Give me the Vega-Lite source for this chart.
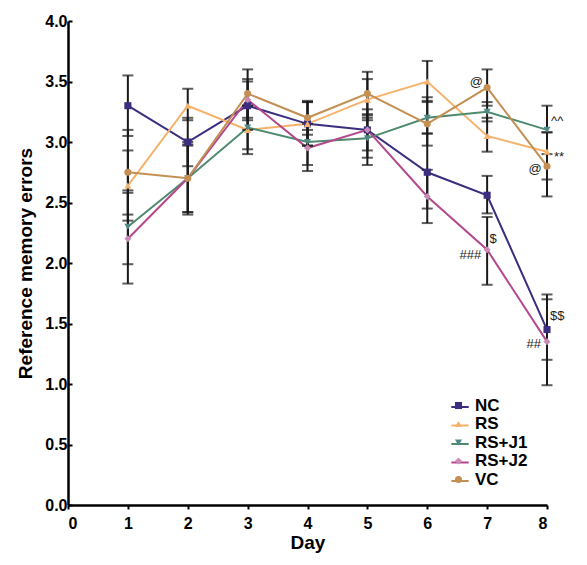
{
  "$schema": "https://vega.github.io/schema/vega-lite/v6.json",
  "width": 479,
  "height": 484,
  "autosize": {"type": "none"},
  "padding": {"left": 68, "top": 21, "right": 40, "bottom": 60},
  "background": "white",
  "config": {
    "view": {"stroke": null},
    "font": "Liberation Sans",
    "axis": {
      "domainColor": "black", "domainWidth": 2.5, "tickColor": "black", "tickWidth": 2, "tickSize": 4,
      "labelFont": "Liberation Sans", "labelFontWeight": "bold", "labelFontSize": 16, "labelColor": "black",
      "titleFont": "Liberation Sans", "titleFontWeight": "bold", "titleFontSize": 19, "titleColor": "black",
      "grid": false
    }
  },
  "datasets": {
    "main": [
      {"day":1,"group":"NC","mean":3.3,"lo":3.05,"hi":3.55},
      {"day":2,"group":"NC","mean":3.0,"lo":2.8,"hi":3.2},
      {"day":3,"group":"NC","mean":3.3,"lo":3.1,"hi":3.5},
      {"day":4,"group":"NC","mean":3.15,"lo":2.97,"hi":3.33},
      {"day":5,"group":"NC","mean":3.1,"lo":2.93,"hi":3.27},
      {"day":6,"group":"NC","mean":2.75,"lo":2.45,"hi":3.07},
      {"day":7,"group":"NC","mean":2.56,"lo":2.41,"hi":2.72},
      {"day":8,"group":"NC","mean":1.45,"lo":1.2,"hi":1.74},
      {"day":1,"group":"RS","mean":2.64,"lo":2.35,"hi":2.93},
      {"day":2,"group":"RS","mean":3.3,"lo":3.18,"hi":3.44},
      {"day":3,"group":"RS","mean":3.1,"lo":2.9,"hi":3.3},
      {"day":4,"group":"RS","mean":3.15,"lo":2.97,"hi":3.33},
      {"day":5,"group":"RS","mean":3.35,"lo":3.18,"hi":3.52},
      {"day":6,"group":"RS","mean":3.5,"lo":3.33,"hi":3.67},
      {"day":7,"group":"RS","mean":3.05,"lo":2.92,"hi":3.2},
      {"day":8,"group":"RS","mean":2.92,"lo":2.69,"hi":3.08},
      {"day":1,"group":"RS+J1","mean":2.3,"lo":1.99,"hi":2.6},
      {"day":2,"group":"RS+J1","mean":2.7,"lo":2.4,"hi":3.0},
      {"day":3,"group":"RS+J1","mean":3.12,"lo":2.94,"hi":3.3},
      {"day":4,"group":"RS+J1","mean":3.0,"lo":2.81,"hi":3.15},
      {"day":5,"group":"RS+J1","mean":3.03,"lo":2.81,"hi":3.2},
      {"day":6,"group":"RS+J1","mean":3.2,"lo":3.07,"hi":3.37},
      {"day":7,"group":"RS+J1","mean":3.25,"lo":3.17,"hi":3.33},
      {"day":8,"group":"RS+J1","mean":3.1,"lo":2.9,"hi":3.3},
      {"day":1,"group":"RS+J2","mean":2.2,"lo":1.83,"hi":2.58},
      {"day":2,"group":"RS+J2","mean":2.7,"lo":2.42,"hi":2.98},
      {"day":3,"group":"RS+J2","mean":3.35,"lo":3.18,"hi":3.52},
      {"day":4,"group":"RS+J2","mean":2.95,"lo":2.76,"hi":3.1},
      {"day":5,"group":"RS+J2","mean":3.1,"lo":2.87,"hi":3.23},
      {"day":6,"group":"RS+J2","mean":2.55,"lo":2.33,"hi":2.77},
      {"day":7,"group":"RS+J2","mean":2.11,"lo":1.82,"hi":2.38},
      {"day":8,"group":"RS+J2","mean":1.35,"lo":0.99,"hi":1.7},
      {"day":1,"group":"VC","mean":2.75,"lo":2.4,"hi":3.1},
      {"day":2,"group":"VC","mean":2.7,"lo":2.42,"hi":2.97},
      {"day":3,"group":"VC","mean":3.4,"lo":3.2,"hi":3.6},
      {"day":4,"group":"VC","mean":3.2,"lo":3.06,"hi":3.34},
      {"day":5,"group":"VC","mean":3.4,"lo":3.22,"hi":3.58},
      {"day":6,"group":"VC","mean":3.15,"lo":2.97,"hi":3.34},
      {"day":7,"group":"VC","mean":3.45,"lo":3.3,"hi":3.6},
      {"day":8,"group":"VC","mean":2.8,"lo":2.55,"hi":3.08}
    ],
    "notes": [
      {"day":6.82,"val":3.5,"label":"@"},
      {"day":8.17,"val":3.17,"label":"^^"},
      {"day":8.2,"val":2.88,"label":"**"},
      {"day":7.8,"val":2.78,"label":"@"},
      {"day":7.1,"val":2.2,"label":"$"},
      {"day":6.72,"val":2.07,"label":"###"},
      {"day":8.17,"val":1.56,"label":"$$"},
      {"day":7.78,"val":1.33,"label":"##"}
    ]
  },
  "resolve": {"scale": {"color": "independent"}, "legend": {"color": "independent", "shape": "independent"}},
  "layer": [
    {
      "data": {"name": "main"},
      "mark": {"type": "line", "strokeWidth": 2},
      "encoding": {
        "x": {"field": "day", "type": "quantitative", "scale": {"domain": [0, 8], "nice": false}, "axis": {"values": [0,1,2,3,4,5,6,7,8], "title": "Day", "labelPadding": 6, "titlePadding": 2, "format": "d"}},
        "y": {"field": "mean", "type": "quantitative", "scale": {"domain": [0, 4], "nice": false}, "axis": {"values": [0,0.5,1,1.5,2,2.5,3,3.5,4], "format": ".1f", "title": "Reference memory errors", "tickSize": -4, "labelPadding": 5, "titlePadding": 9}},
        "color": {"field": "group", "type": "nominal",
          "scale": {"domain": ["NC","RS","RS+J1","RS+J2","VC"], "range": ["#3b2d7f","#f6b26b","#4e8a6e","#b3498c","#c38f52"]},
          "legend": {"orient": "none", "legendX": 382, "legendY": 376, "title": null, "symbolType": "stroke", "symbolSize": 300, "symbolStrokeWidth": 2, "labelFontSize": 17, "labelFontWeight": "bold", "labelFont": "Liberation Sans", "labelColor": "black", "rowPadding": 0.5, "labelOffset": 8, "labelExpr": "''"}}
      }
    },
    {
      "data": {"name": "main"},
      "mark": {"type": "rule", "color": "#1a1a1a", "strokeWidth": 2},
      "encoding": {
        "x": {"field": "day", "type": "quantitative"},
        "y": {"field": "lo", "type": "quantitative"},
        "y2": {"field": "hi"}
      }
    },
    {
      "data": {"name": "main"},
      "mark": {"type": "tick", "orient": "horizontal", "color": "#1a1a1a", "thickness": 2, "size": 11},
      "encoding": {
        "x": {"field": "day", "type": "quantitative"},
        "y": {"field": "lo", "type": "quantitative"}
      }
    },
    {
      "data": {"name": "main"},
      "mark": {"type": "tick", "orient": "horizontal", "color": "#1a1a1a", "thickness": 2, "size": 11},
      "encoding": {
        "x": {"field": "day", "type": "quantitative"},
        "y": {"field": "hi", "type": "quantitative"}
      }
    },
    {
      "data": {"name": "main"},
      "mark": {"type": "point", "filled": true, "size": 50, "opacity": 1},
      "encoding": {
        "x": {"field": "day", "type": "quantitative"},
        "y": {"field": "mean", "type": "quantitative"},
        "color": {"field": "group", "type": "nominal",
          "scale": {"domain": ["NC","RS","RS+J1","RS+J2","VC"], "range": ["#3b2d7f","#f6b26b","#4d8a85","#c98bb6","#c38f52"]},
          "legend": {"orient": "none", "legendX": 382, "legendY": 376, "title": null, "symbolSize": 50, "labelFontSize": 17, "labelFontWeight": "bold", "labelFont": "Liberation Sans", "labelColor": "black", "rowPadding": 0.5, "labelOffset": 8, "symbolOpacity": 1}},
        "shape": {"field": "group", "type": "nominal",
          "scale": {"domain": ["NC","RS","RS+J1","RS+J2","VC"], "range": ["square","triangle-up","triangle-down","diamond","circle"]},
          "legend": {"orient": "none", "legendX": 382, "legendY": 376, "title": null, "symbolSize": 50, "labelFontSize": 17, "labelFontWeight": "bold", "labelFont": "Liberation Sans", "labelColor": "black", "rowPadding": 0.5, "labelOffset": 8}}
      }
    },
    {
      "data": {"name": "notes"},
      "mark": {"type": "text", "fontSize": 13, "font": "Liberation Sans", "color": "#222"},
      "encoding": {
        "x": {"field": "day", "type": "quantitative"},
        "y": {"field": "val", "type": "quantitative"},
        "text": {"field": "label"}
      }
    }
  ]
}
